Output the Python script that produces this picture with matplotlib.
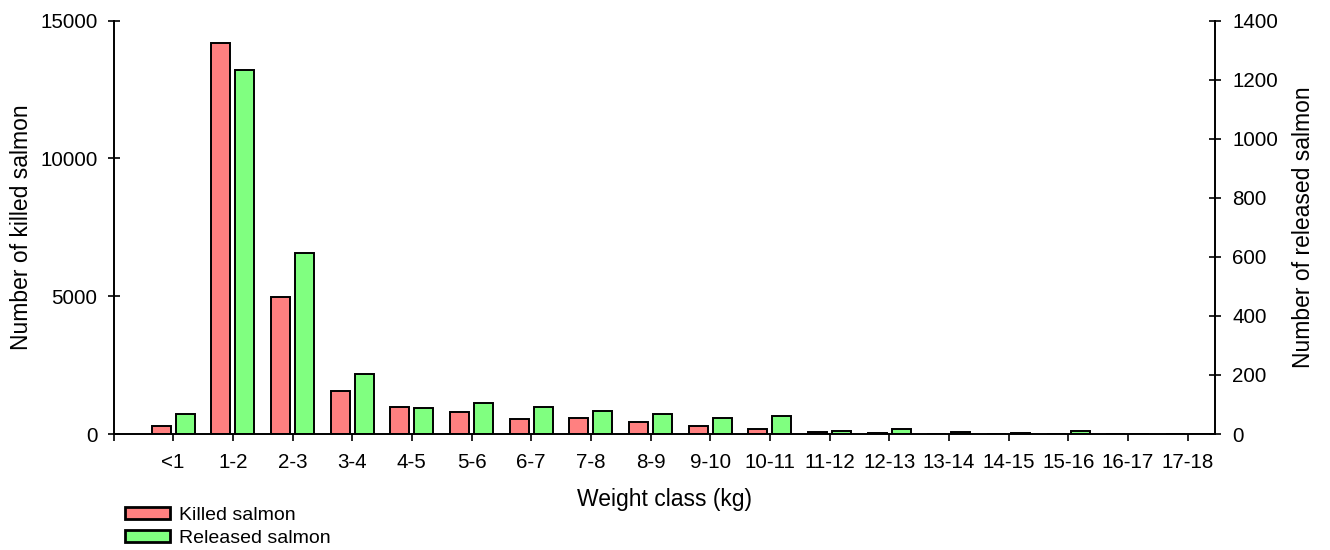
import matplotlib.pyplot as plt
import numpy as np

plt.rcParams['font.family'] = ['Liberation Sans', 'DejaVu Sans']

# Weight classes and catch numbers
weight_classes = ['<1', '1-2', '2-3', '3-4', '4-5', '5-6', '6-7', '7-8', '8-9',
                  '9-10', '10-11', '11-12', '12-13', '13-14', '14-15', '15-16',
                  '16-17', '17-18']
killed = [300, 14200, 4960, 1570, 990, 800, 535, 585, 430,
          285, 175, 90, 40, 10, 5, 3, 0, 0]
released = [69, 1234, 612, 204, 88, 106, 93, 77, 69,
            55, 62, 11, 18, 8, 5, 9, 0, 0]

red = '#FF8080'
green = '#80FF80'

fig = plt.figure(figsize=(13.3, 5.5), dpi=100)
ax = fig.add_axes([113.5 / 1330, 1 - 434 / 550, (1215 - 113.5) / 1330, (434 - 20.7) / 550])
ax2 = ax.twinx()

x = np.arange(len(weight_classes))
w = 0.32
b1 = ax.bar(x - 0.2, killed, w, color=red, edgecolor='black', linewidth=1.4,
            label='Killed salmon')
b2 = ax2.bar(x + 0.2, released, w, color=green, edgecolor='black', linewidth=1.4,
             label='Released salmon')

ax.set_xlim(-1, 17.46)
ax.set_ylim(0, 15000)
ax2.set_ylim(0, 1400)
ax.set_yticks([0, 5000, 10000, 15000])
ax2.set_yticks(range(0, 1401, 200))

ax.set_xticks(np.arange(-1, len(weight_classes)))
ax.set_xticklabels([''] + weight_classes)

for a in (ax, ax2):
    a.spines['top'].set_visible(False)
    for s in a.spines.values():
        s.set_linewidth(1.2)
ax.tick_params(axis='y', direction='inout', length=9, width=1.2, labelsize=14.8, pad=7)
ax2.tick_params(axis='y', direction='inout', length=9, width=1.2, labelsize=14.8, pad=8)
ax.tick_params(axis='x', direction='out', length=5, width=1.2, labelsize=14.8, pad=9)

ax.set_ylabel('Number of killed salmon', fontsize=16.5, labelpad=5)
ax2.set_ylabel('Number of released salmon', fontsize=16.5, labelpad=10)
ax.set_xlabel('Weight class (kg)', fontsize=16.5, labelpad=11)

leg = fig.legend(handles=[b1, b2], loc='upper left',
                 bbox_to_anchor=(125 / 1330, 1 - 507 / 550),
                 frameon=False, fontsize=14, borderpad=0, borderaxespad=0,
                 handlelength=2.3, handleheight=0.55, handletextpad=0.5,
                 labelspacing=0.3)
for p in leg.get_patches():
    p.set_linewidth(2.0)

fig.savefig('out.png', dpi=100)
